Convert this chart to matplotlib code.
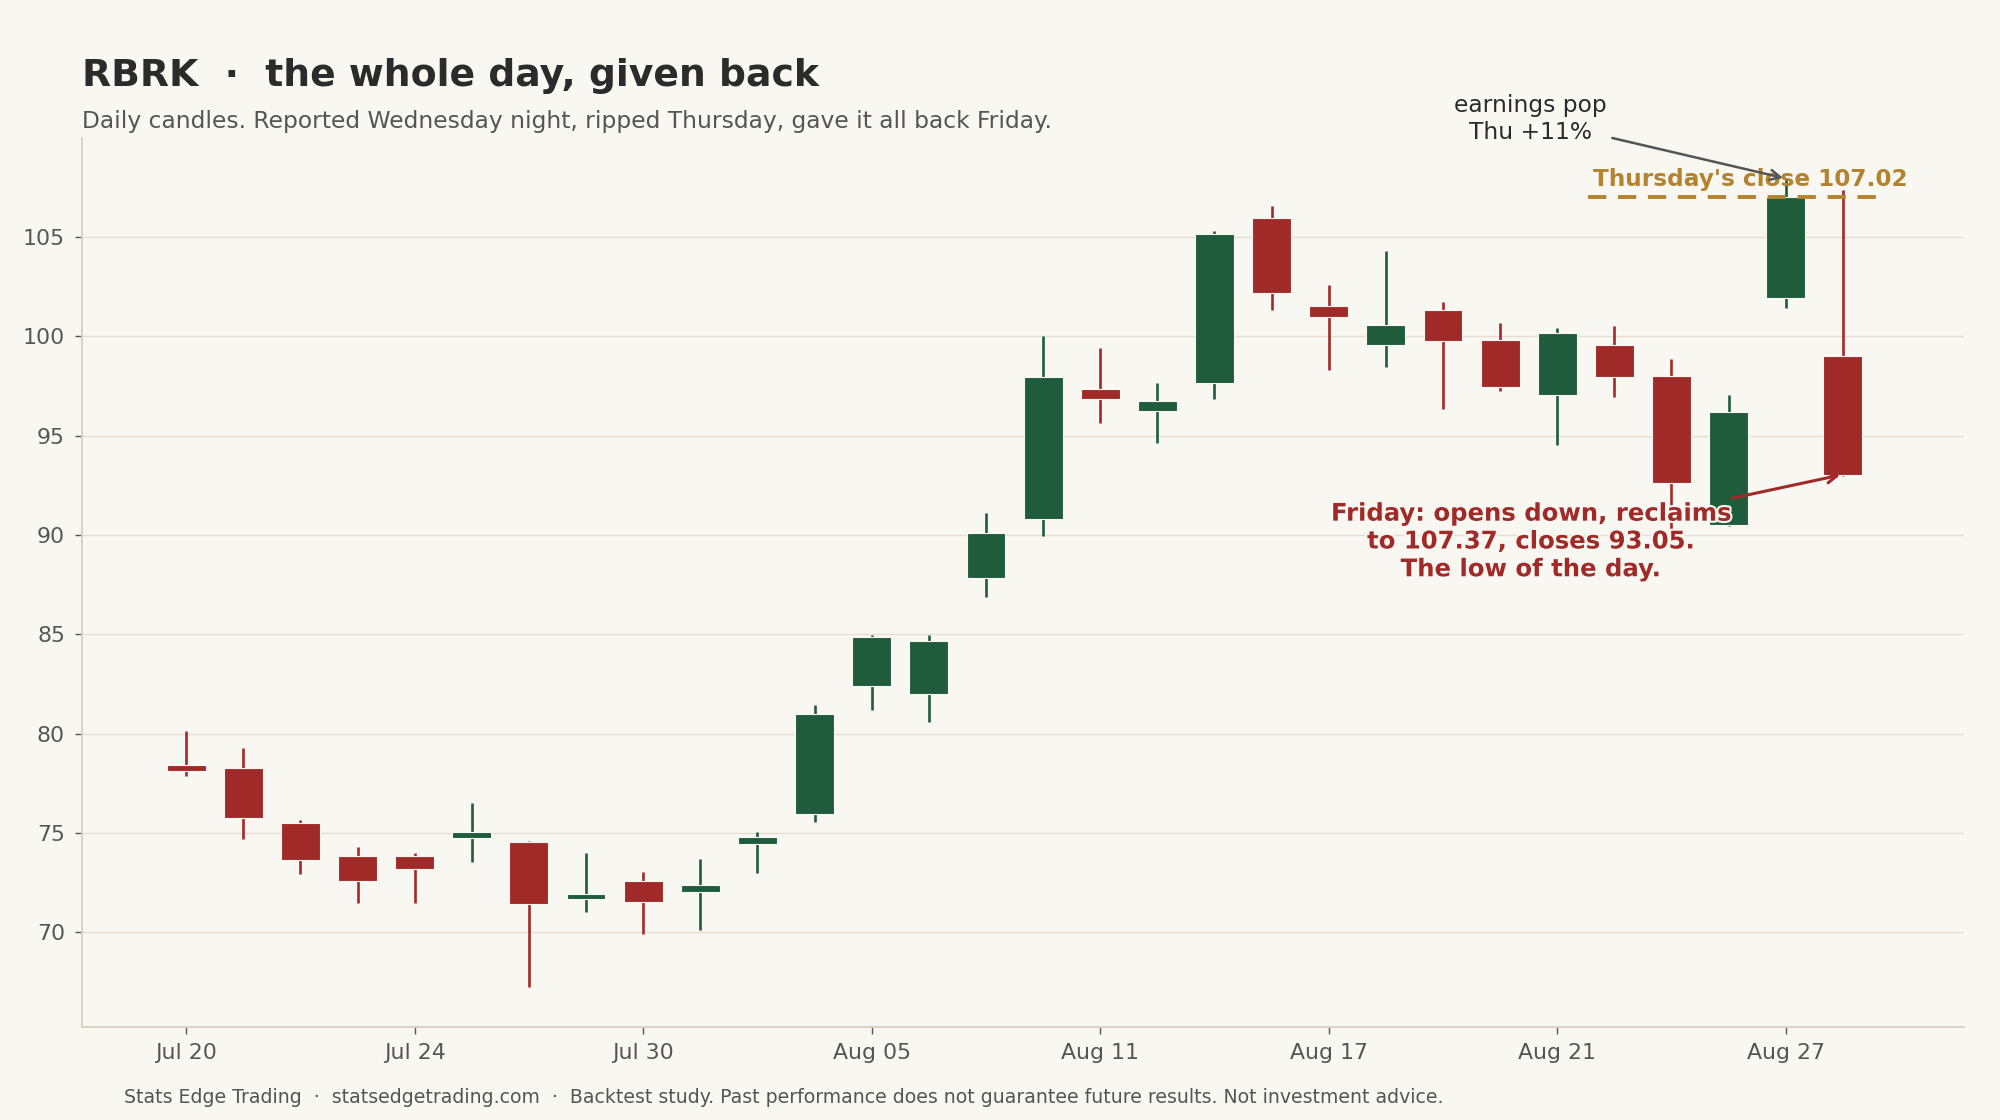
import matplotlib
matplotlib.use("Agg")
import matplotlib.pyplot as plt
import matplotlib.patheffects as pe
import numpy as np
import pandas as pd

# ---- data ----
dates = pd.bdate_range("2026-07-20", "2026-08-28")
opens = [78.45, 78.30, 75.50, 73.85, 73.85, 74.75, 74.55, 71.70, 72.60, 72.05,
         74.45, 75.95, 82.40, 82.00, 87.85, 90.80, 97.35, 96.25, 97.65, 105.95,
         101.55, 99.55, 101.35, 99.80, 97.05, 99.55, 98.00, 90.50, 101.95, 99.00]
highs = [80.15, 79.30, 75.65, 74.30, 74.00, 76.50, 74.60, 74.00, 73.05, 73.70,
         75.05, 81.45, 84.95, 84.95, 91.10, 100.00, 99.40, 97.65, 105.30, 106.55,
         102.60, 104.30, 101.75, 100.70, 100.40, 100.50, 98.85, 97.05, 107.95, 107.37]
lows = [77.85, 74.70, 72.95, 71.50, 71.50, 73.55, 67.25, 71.05, 69.90, 70.10,
        73.00, 75.55, 81.20, 80.60, 86.90, 89.95, 95.65, 94.65, 96.85, 101.35,
        98.30, 98.45, 96.35, 97.25, 94.55, 96.95, 90.30, 90.45, 101.45, 92.95]
closes = [78.15, 75.75, 73.65, 72.60, 73.20, 75.05, 71.45, 71.95, 71.55, 72.40,
          74.80, 81.00, 84.85, 84.65, 90.10, 97.95, 96.85, 96.75, 105.15, 102.20,
          101.00, 100.60, 99.75, 97.45, 100.15, 97.95, 92.60, 96.20, 107.02, 93.05]
tick_every = 4
y_ticks = [70, 75, 80, 85, 90, 95, 100, 105]
thu_close = 107.02
fri_high = 107.37
fri_close = 93.05

title = "RBRK  \u00b7  the whole day, given back"
subtitle = "Daily candles. Reported Wednesday night, ripped Thursday, gave it all back Friday."
footer = ("Stats Edge Trading  \u00b7  statsedgetrading.com  \u00b7  Backtest study. "
          "Past performance does not guarantee future results. Not investment advice.")

# ---- style ----
BG = "#f9f7f2"
GREEN = "#1e5c3b"
RED = "#a02a27"
GOLD = "#b5822d"
INK = "#2b2b2b"
MUTED = "#555555"
GRID = "#e6ded2"
SPINE = "#d6d0c0"

plt.rcParams["font.family"] = ["DejaVu Sans"]

fig = plt.figure(figsize=(20, 11.2), dpi=100, facecolor=BG)
ax = fig.add_axes([0.0408, 0.0832, 0.9412, 0.7938])
ax.set_facecolor(BG)

o = np.array(opens); h = np.array(highs); l = np.array(lows); c = np.array(closes)
x = np.arange(len(o))
up = c >= o
cols = np.where(up, GREEN, RED)

ax.vlines(x, l, h, colors=cols, linewidth=1.9, zorder=2)
ax.bar(x, np.abs(c - o), bottom=np.minimum(o, c), width=0.68, color=cols,
       edgecolor=BG, linewidth=0.8, zorder=3)

# x axis
tick_idx = x[::tick_every]
ax.set_xticks(tick_idx)
ax.set_xticklabels([dates[i].strftime("%b %d") for i in tick_idx])
ax.set_xlim(-1.83, 31.12)
ax.set_ylim(65.25, 110.0)
ax.set_yticks(y_ticks)

ax.grid(axis="y", color=GRID, linewidth=1.0, zorder=0)
ax.set_axisbelow(True)
for s in ["top", "right"]:
    ax.spines[s].set_visible(False)
for s in ["left", "bottom"]:
    ax.spines[s].set_color(SPINE)
    ax.spines[s].set_linewidth(1.3)
ax.tick_params(axis="both", colors=MUTED, labelsize=15.8, length=5, width=1, pad=7)

# Thursday close line
n = len(o)
ax.hlines(thu_close, n - 5.47, n - 0.4, colors=GOLD, linewidth=2.8,
          linestyles=[(0, (4.7, 3.0))], zorder=4)
ax.text(n - 5.37, thu_close + 0.3, f"Thursday's close {thu_close:.2f}", color=GOLD,
        fontsize=16.7, fontweight="bold", ha="left", va="bottom", zorder=5)

# earnings annotation
ax.annotate("earnings pop\nThu +11%", xy=(n - 2, h[n - 2]), xytext=(23.53, 110.95),
            ha="center", va="center", fontsize=16.8, color=INK,
            arrowprops=dict(arrowstyle="->", color=MUTED, lw=1.8,
                            shrinkA=2, shrinkB=2, mutation_scale=18),
            annotation_clip=False, zorder=6)

# Friday annotation
ax.annotate(f"Friday: opens down, reclaims\nto {fri_high:.2f}, closes {fri_close:.2f}.\nThe low of the day.",
            xy=(n - 1, fri_close), xytext=(23.53, 89.68),
            ha="center", va="center", fontsize=17.5, fontweight="bold", color=RED,
            arrowprops=dict(arrowstyle="->", color=RED, lw=2.2,
                            shrinkA=2, shrinkB=2, mutation_scale=18),
            path_effects=[pe.withStroke(linewidth=3, foreground=BG)],
            annotation_clip=False, zorder=6)

fig.text(0.0408, 0.9228, title, fontsize=27.2, fontweight="bold", color=INK,
         ha="left", va="baseline")
fig.text(0.0408, 0.8857, subtitle, fontsize=16.8, color=MUTED, ha="left", va="baseline")
fig.text(0.062, 0.0205, footer, fontsize=13.6, color=MUTED, ha="left", va="center")

fig.savefig("out.png", dpi=100, facecolor=BG)
